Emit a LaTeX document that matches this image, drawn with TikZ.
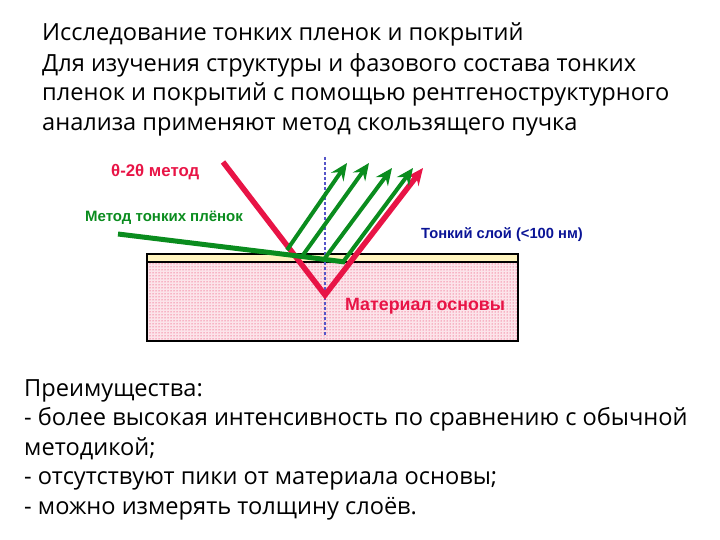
\documentclass[tikz,border=0pt]{standalone}
\usepackage{fontspec}
\setmainfont{Open Sans}
\newfontfamily\labelfont{Liberation Sans}
\usetikzlibrary{arrows.meta}
\usetikzlibrary{patterns}
\definecolor{rayred}{RGB}{232,20,70}
\definecolor{raygreen}{RGB}{10,140,30}
\definecolor{normalblue}{RGB}{85,85,200}
\definecolor{layeryellow}{RGB}{255,244,190}
\definecolor{basepink}{RGB}{252,228,234}
\definecolor{labelblue}{RGB}{10,20,150}
\tikzset{
    textline/.style={anchor=base west, inner sep=0pt, font=\fontsize{23.6}{26}\selectfont, text=black},
    raylabel/.style={anchor=base west, inner sep=0pt},
    redray/.style={rayred, line width=5.5pt},
    greenray/.style={raygreen, line width=5pt},
    rayhead/.style={-{Stealth[length=17pt, width=15pt, inset=6pt]}}
}
\begin{document}
\begin{tikzpicture}[x=1pt, y=-1pt]
        \useasboundingbox (0,0) rectangle (720,540);

        % Top text
        \node[textline] (title) at (42,41) {Исследование тонких пленок и покрытий};
        \node[textline] (introa) at (42,72) {Для изучения структуры и фазового состава тонких};
        \node[textline] (introb) at (42,101) {пленок и покрытий с помощью рентгеноструктурного};
        \node[textline] (introc) at (42,131) {анализа применяют метод скользящего пучка};

        % Sample
        \fill[basepink] (147,262) rectangle (518,341);
        \fill[pattern=dots, pattern color=rayred] (147,262) rectangle (518,341);
        \fill[layeryellow] (147,254) rectangle (518,262);
        \draw[line width=2.7pt] (147,254) rectangle (518,341);
        \draw[line width=2.7pt] (147,262) -- (518,262);

        % Surface normal
        \coordinate (normaltop) at (325,157);
        \coordinate (normalend) at (325,337);
        \draw[normalblue, densely dashed, line width=1.2pt] (normaltop) -- (normalend);

        % Red ray
        \coordinate (redstart) at (223,162);
        \coordinate (redturn) at (325,295);
        \coordinate (redtip) at (423,168);
        \draw[redray, rayhead, line join=miter] (redstart) -- (redturn) -- (redtip);

        % Green ray and its reflections
        \coordinate (greenstart) at (118,234);
        \coordinate (greenhit) at (290,255);
        \coordinate (greenend) at (345,262);
        \draw[greenray] (greenstart) -- (greenhit) -- (greenend);
        \foreach \xs/\ys/\xe/\ye in {287/250/347/163, 303/255/369/163, 325/258/392/168, 343/262/413/168} {
            \coordinate (from) at (\xs,\ys);
            \coordinate (to) at (\xe,\ye);
            \draw[raygreen, line width=4pt, rayhead] (from) -- (to); % Reflected ray
        }

        % Labels
        \node[raylabel, text=rayred, font=\labelfont\bfseries\fontsize{16.8}{19}\selectfont] (thetalabel) at (111,177) {θ-2θ метод};
        \node[raylabel, text=raygreen, font=\labelfont\bfseries\fontsize{15}{17}\selectfont] (filmlabel) at (85,222) {Метод тонких плёнок};
        \node[raylabel, text=labelblue, font=\labelfont\bfseries\fontsize{14.7}{17}\selectfont] (layerlabel) at (421,239) {Тонкий слой (<100 нм)};
        \node[raylabel, text=rayred, font=\labelfont\bfseries\fontsize{17.8}{20}\selectfont] (baselabel) at (345,310) {Материал основы};

        % Bottom text
        \node[textline] (prosa) at (24,396) {Преимущества:};
        \node[textline] (prosb) at (24,425) {- более высокая интенсивность по сравнению с обычной};
        \node[textline] (prosc) at (24,455) {методикой;};
        \node[textline] (prosd) at (24,484) {- отсутствуют пики от материала основы;};
        \node[textline] (prose) at (24,514) {- можно измерять толщину слоёв.};
\end{tikzpicture}
\end{document}
